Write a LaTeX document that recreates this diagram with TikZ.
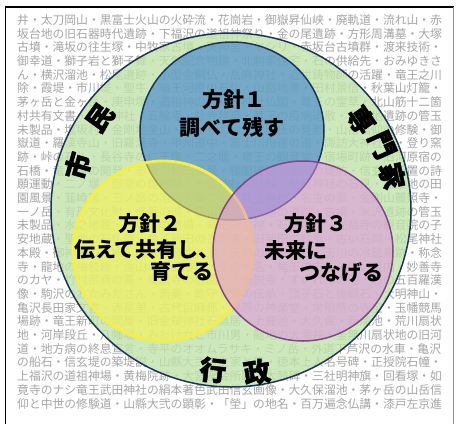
\documentclass[tikz,border=0pt]{standalone}
\usepackage{fontspec}
\newfontfamily\jp{Noto Sans CJK JP}
\newfontfamily\jpheavy{Noto Sans CJK JP}[BoldFeatures={FakeBold=1.6}]
\definecolor{ringgreen}{RGB}{192,228,168}
\definecolor{navy}{RGB}{28,52,92}
\definecolor{pblue}{RGB}{45,118,210}
\definecolor{pyellow}{RGB}{255,243,70}
\definecolor{ppurple}{RGB}{226,145,226}
\definecolor{yedge}{RGB}{246,238,72}
\definecolor{pedge}{RGB}{130,70,140}
\definecolor{bgtxt}{RGB}{166,166,166}
\begin{document}
\begin{tikzpicture}[x=1pt,y=-1pt,
  bgtext/.style={anchor=west, inner sep=0pt, text=bgtxt, font=\jp\fontsize{11.8}{12}\selectfont},
  ring/.style={draw=navy, line width=1.5pt, fill=ringgreen, fill opacity=0.78},
  bluec/.style={draw=navy, line width=1.5pt, fill=pblue, fill opacity=0.55},
  yellowc/.style={draw=yedge, line width=2.8pt, fill=pyellow, fill opacity=0.55},
  purplec/.style={draw=pedge, line width=1.5pt, fill=ppurple, fill opacity=0.55},
  actor/.style={inner sep=0pt, font=\jpheavy\bfseries\fontsize{27}{27}\selectfont},
  policy/.style={inner sep=0pt, font=\jp\bfseries\fontsize{21}{21}\selectfont}]
\useasboundingbox (0,0) rectangle (457,423);
\fill[white] (0,0) rectangle (457,423);
% frame
\draw[line width=1.8pt] (5.5,440) -- (5.5,7) -- (453.5,7);
\draw[line width=0.8pt, black!45] (453.5,7) -- (453.5,440);
% background text
\node[bgtext] (r1) at (17,20.0) {井・太刀岡山・黒富士火山の火砕流・花崗岩・御嶽昇仙峡・廃軌道・流れ山・赤};
\node[bgtext] (r2) at (17,33.7) {坂台地の旧石器時代遺跡・下福沢の道祖神祭り・金の尾遺跡・方形周溝墓・大塚};
\node[bgtext] (r3) at (17,47.4) {古墳・滝坂の往生塚・中牧家古墳・天神宮・ヤシリ・赤坂台古墳群・渡来技術・};
\node[bgtext] (r4) at (17,61.1) {御幸道・獅子岩と獅子舞・天然記念物跡・北駒家住宅・石の供給先・おみゆきさ};
\node[bgtext] (r5) at (17,74.8) {ん・横沢溜池・松尾遺跡・小型金銅仏・岳麻神社・近世鋳物師の活躍・竜王之川};
\node[bgtext] (r6) at (17,88.5) {除・霞堤・市川堤・聖牛・竜王河原の石仏・山岳地帯・田村景信・秋葉山灯籠・};
\node[bgtext] (r7) at (17,102.2) {茅ヶ岳と金ヶ岳・庚申塚・道祖神の祭礼・神社仏閣・竜王の霊草・北山筋十二箇};
\node[bgtext] (r8) at (17,115.9) {村共有文書・八幡神社・五輪塔・社寺建築・竜王の疫病退散・金剛地遺跡の管玉};
\node[bgtext] (r9) at (17,129.6) {未製品・塩坂村・金剛地金山・ゆかりの地・武田氏の見影・山岳信仰の修験・御};
\node[bgtext] (r10) at (17,143.3) {嶽道・羅漢寺山・旧羅漢寺・甲州道中・富士川舟運の道・諏訪大神社跡・登り窯};
\node[bgtext] (r11) at (17,157.0) {跡・峠の石仏・長谷寺の仁王像・二之堰・竜王の観音堂・宿場町跡・旧河原宿の};
\node[bgtext] (r12) at (17,170.7) {石橋・竜王鼻の開発・赤坂の棚田風景・楼閣建築・塩川の堤防・信玄堤配置の詩};
\node[bgtext] (r13) at (17,184.4) {願運動・二ノ堰・御堂の鐘楼跡・大宮神社の社殿・稲荷神社の石見・丘陵地の田};
\node[bgtext] (r14) at (17,198.1) {園風景・韮崎宿・三ノ岳の溶岩・森の泉・兵主神社・名主の家・金剛山麓照寺・};
\node[bgtext] (r15) at (17,211.8) {一ノ岳・有形文化財・修養の道・石仏群・用水路の遺跡・古墳・米沢遺跡の管玉};
\node[bgtext] (r16) at (17,225.5) {未製品・水之地蔵・古墳群の遺構・竜王の水神・石油堤防・光福寺の観音院の子};
\node[bgtext] (r17) at (17,239.2) {安地蔵・聖地の石仏群・竜王新田の古文書・旧新田の妙馬・古い石祠・松尾神社};
\node[bgtext] (r18) at (17,252.9) {本殿・御神木の大欅・旧家の庭園と池・天狗の腰掛け石・玉川の冷鉱泉跡・称念};
\node[bgtext] (r19) at (17,266.6) {寺・龍地の梅枝線・金山の坑道跡群・空の地名・竜王の古寺の広い境内・妙善寺};
\node[bgtext] (r20) at (17,280.3) {のカヤ・竹村宗貞の墓・鳥居寺の庭園・下条説寺・すいれんの池・石の五百羅漢};
\node[bgtext] (r21) at (17,294.0) {像・駒沢のおたみださん・斎昊・乾守・鈴の伝承・団子石と後綱石・大明神山・};
\node[bgtext] (r22) at (17,307.7) {亀沢長田家文書・赤星里・古代巨麻郡・寺原の神楽堂・常照院の寺宝・玉幡競馬};
\node[bgtext] (r23) at (17,321.4) {場跡・竜王新町の問屋・旧金桜神社石鳥居・上鹿池・大久保・新溜池・荒川扇状};
\node[bgtext] (r24) at (17,335.1) {地・河岸段丘・八幡堰・みたけ女と市川男・龍地の大溜井・釜無川扇状地の旧河};
\node[bgtext] (r25) at (17,348.8) {道・地方病の終息宣言・寺平のオオムラサキ・ミノ岳・外道下芦沢の水車・亀沢};
\node[bgtext] (r26) at (17,362.5) {の船石・信玄堤の築堤説・山縣大弐の生家と墓・徳本上人名号碑・正授院石幢・};
\node[bgtext] (r27) at (17,376.2) {上福沢の道祖神場・黄梅院跡・大宮座会所跡・太鼓碑・三社明神旗・回看塚・如};
\node[bgtext] (r28) at (17,389.9) {竟寺のナシ竜王武田神社の絹本著色武田信玄画像・大久保溜池・茅ヶ岳の山岳信};
\node[bgtext] (r29) at (17,403.6) {仰と中世の修験道・山縣大弐の顕彰・「塋」の地名・百万遍念仏講・漆戸左京進};
% circles
\path[ring] (231,210) ellipse [x radius=180, y radius=177];
\path[bluec] (232,131) ellipse [x radius=92, y radius=89];
\path[yellowc] (163,251) circle [radius=90];
\path[purplec] (303,251) circle [radius=90];
% actors
\node[actor, rotate=74] (shi) at (78,166) {市};
\node[actor, rotate=54] (min) at (100,118) {民};
\node[actor, rotate=-55] (sen) at (361,120) {専};
\node[actor, rotate=-66] (mon) at (382,145) {門};
\node[actor, rotate=-78] (ka) at (392,176) {家};
\node[actor, rotate=-6] (gyo) at (213,370) {行};
\node[actor, rotate=9] (sei) at (257,372) {政};
% policies
\node[policy] (p1a) at (234,100) {方針１};
\node[policy] (p1b) at (232,127) {調べて残す};
\node[policy] (p2a) at (150,224) {方針２};
\node[policy] (p2b) at (147,250) {伝えて共有し、};
\node[policy] (p2c) at (182,272) {育てる};
\node[policy] (p3a) at (316,224) {方針３};
\node[policy] (p3b) at (296,251) {未来に};
\node[policy] (p3c) at (341,273) {つなげる};
\end{tikzpicture}
\end{document}
